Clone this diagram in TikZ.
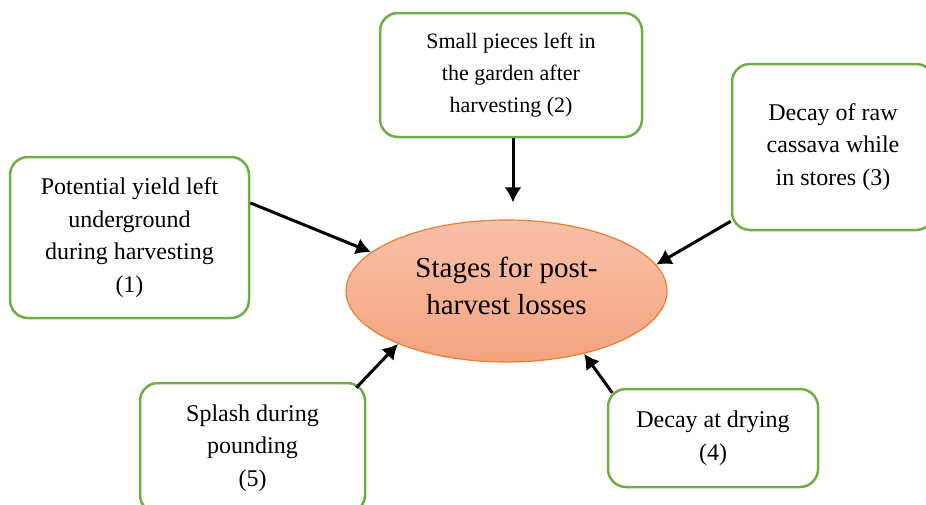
\documentclass[tikz,border=0pt]{standalone}
\usepackage{fontspec}
\setmainfont{Liberation Serif}
\usepackage{xcolor}
\usetikzlibrary{arrows.meta}
\usetikzlibrary{shapes.geometric}
\definecolor{mygreen}{RGB}{112, 173, 71}
\definecolor{myorange}{RGB}{237, 125, 49}
\definecolor{mytop}{RGB}{248, 193, 168}
\definecolor{mybot}{RGB}{244, 163, 127}

\begin{document}
\begin{tikzpicture}[x=1pt,y=-1pt,
  box/.style={draw=mygreen, line width=2.5pt, rounded corners=18pt, fill=white,
    align=center, inner sep=0pt, font=\fontsize{24}{32.5}\selectfont},
  stage/.style={ellipse, draw=myorange, line width=1.2pt, top color=mytop, bottom color=mybot,
    minimum width=321pt, minimum height=142pt, inner sep=0pt},
  arr/.style={-{Latex[length=15pt,width=17pt]}, line width=3pt}]
\clip (0,0) rectangle (926,504);

\node[stage] (S) at (506.5,291) {};
\node[align=center, font=\fontsize{29}{37}\selectfont] (St) at ([yshift=5pt]S.center)
  {Stages for post-\\harvest losses};

\node[box, minimum width=239pt, minimum height=161pt] (b1) at (129.5,237.5)
  {Potential yield left\\underground\\during harvesting\\(1)};
\node[box, minimum width=262pt, minimum height=124pt, font=\fontsize{22}{31.7}\selectfont] (b2) at (511,75)
  {Small pieces left in\\the garden after\\harvesting (2)};
\node[box, minimum width=202pt, minimum height=166pt] (b3) at (833,147)
  {Decay of raw\\cassava while\\in stores (3)};
\node[box, minimum width=210pt, minimum height=98pt] (b4) at (713,438)
  {Decay at drying\\(4)};
\node[box, minimum width=225pt, minimum height=130pt] (b5) at (252.5,448)
  {Splash during\\pounding\\(5)};

\draw[arr] (b1.16) -- (S.164);
\draw[arr, shorten >=17pt] ([xshift=2pt]b2.south) -- ([xshift=2pt]b2.south |- S.north);
\draw[arr] (b3.216) -- (S.10.7);
\draw[arr] ([xshift=5.5pt,yshift=-5pt]b4.north west) -- (S.321.6);
\draw[arr] ([xshift=-10pt,yshift=-6pt]b5.north east) -- (S.206.7);
\end{tikzpicture}
\end{document}
